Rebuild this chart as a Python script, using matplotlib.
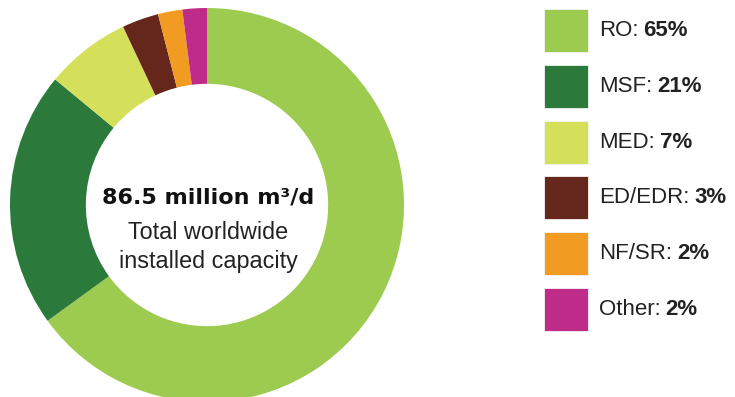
import matplotlib
matplotlib.use("Agg")
import matplotlib.pyplot as plt
from matplotlib.patches import Rectangle

labels = ["RO", "MSF", "MED", "ED/EDR", "NF/SR", "Other"]
shares = [65, 21, 7, 3, 2, 2]
colors = ["#9ccb50", "#2b7a3c", "#d5e05a", "#65261b", "#f29b22", "#bf2b89"]
total_text = "86.5 million m³/d"
sub_text = ["Total worldwide", "installed capacity"]

plt.rcParams["font.family"] = ["Liberation Sans", "DejaVu Sans"]

W, H = 735, 397
fig = plt.figure(figsize=(W / 100, H / 100), dpi=100)

# donut
cx, cy, r = 207, 205, 197
ax = fig.add_axes([(cx - r) / W, (H - cy - r) / H, 2 * r / W, 2 * r / H])
ax.pie(shares, colors=colors, startangle=90, counterclock=False,
       wedgeprops=dict(width=0.385, linewidth=0))
ax.set_xlim(-1, 1)
ax.set_ylim(-1, 1)
ax.axis("off")
ax.text(0.005, 0.01, total_text, ha="center", va="baseline", fontsize=16,
        fontweight="bold", color="#111111", family=["DejaVu Sans"])
ax.text(0.005, -0.173, sub_text[0], ha="center", va="baseline", fontsize=16.8,
        color="#222222")
ax.text(0.005, -0.32, sub_text[1], ha="center", va="baseline", fontsize=16.8,
        color="#222222")

# legend
lg = fig.add_axes([0, 0, 1, 1])
lg.set_xlim(0, W)
lg.set_ylim(H, 0)
lg.axis("off")
fig.canvas.draw()
rend = fig.canvas.get_renderer()
for i, (lab, val, col) in enumerate(zip(labels, shares, colors)):
    y0 = 9 + i * 55.8
    lg.add_patch(Rectangle((544, y0), 44, 43, facecolor=col, edgecolor="#f4f4f4",
                           linewidth=0.6))
    t = lg.text(599, y0 + 27, lab + ":", ha="left", va="baseline", fontsize=16,
                color="#222222")
    bb = t.get_window_extent(renderer=rend)
    x_end = lg.transData.inverted().transform((bb.x1, 0))[0] + 5
    lg.text(x_end, y0 + 27, f"{val}%", ha="left", va="baseline",
            fontsize=16, fontweight="bold", color="#222222")

fig.savefig("out.png", dpi=100)
